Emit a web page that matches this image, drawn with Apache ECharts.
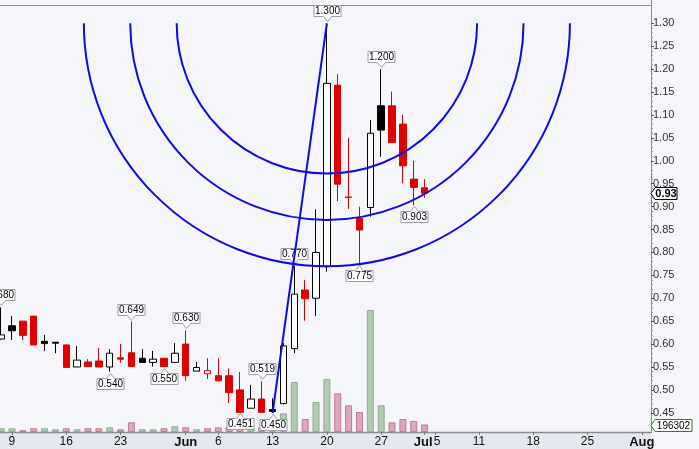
<!DOCTYPE html>
<html><head><meta charset="utf-8">
<script src="https://cdn.jsdelivr.net/npm/echarts@6/dist/echarts.min.js"></script>
<style>html,body{margin:0;padding:0;background:#f5f6fa;}#c{width:699px;height:449px;}</style>
</head><body><div id="c"></div>
<script>
// Trading days (category axis), May 6 2011 .. Aug 1 2011
const dates = [
 '2011-05-06','2011-05-09','2011-05-10','2011-05-11','2011-05-12','2011-05-13',
 '2011-05-16','2011-05-17','2011-05-18','2011-05-19','2011-05-20',
 '2011-05-23','2011-05-24','2011-05-25','2011-05-26','2011-05-27',
 '2011-05-31','2011-06-01','2011-06-02','2011-06-03',
 '2011-06-06','2011-06-07','2011-06-08','2011-06-09','2011-06-10',
 '2011-06-13','2011-06-14','2011-06-15','2011-06-16','2011-06-17',
 '2011-06-20','2011-06-21','2011-06-22','2011-06-23','2011-06-24',
 '2011-06-27','2011-06-28','2011-06-29','2011-06-30','2011-07-01',
 '2011-07-05','2011-07-06','2011-07-07','2011-07-08',
 '2011-07-11','2011-07-12','2011-07-13','2011-07-14','2011-07-15',
 '2011-07-18','2011-07-19','2011-07-20','2011-07-21','2011-07-22',
 '2011-07-25','2011-07-26','2011-07-27','2011-07-28','2011-07-29',
 '2011-08-01'
];
const opens  = [0.611,0.640,0.650,0.661,0.606,0.604,0.598,0.550,0.561,0.563,0.550,0.570,0.581,0.569,0.560,0.569,0.560,0.600,0.541,0.535,0.531,0.531,0.500,0.460,0.480,0.457,0.470,0.590,0.718,0.700,0.769,1.165,0.921,0.875,0.898,1.120,1.120,1.080,0.960,0.941];
const closes = [0.620,0.629,0.619,0.598,0.601,0.602,0.549,0.565,0.551,0.550,0.580,0.567,0.551,0.560,0.567,0.551,0.580,0.531,0.549,0.542,0.520,0.494,0.451,0.480,0.451,0.453,0.596,0.709,0.699,0.800,1.169,0.949,0.920,0.849,1.060,1.067,1.040,0.989,0.942,0.929];
const lows   = [0.610,0.609,0.609,0.598,0.585,0.580,0.549,0.550,0.550,0.550,0.540,0.559,0.551,0.560,0.551,0.550,0.560,0.520,0.541,0.524,0.518,0.471,0.451,0.460,0.451,0.450,0.468,0.580,0.651,0.661,0.758,0.912,0.895,0.775,0.878,1.009,1.040,0.951,0.903,0.919];
const highs  = [0.680,0.661,0.651,0.661,0.620,0.604,0.600,0.596,0.567,0.591,0.589,0.600,0.649,0.589,0.585,0.569,0.602,0.630,0.561,0.569,0.569,0.547,0.539,0.511,0.519,0.482,0.602,0.770,0.740,0.894,1.300,1.189,1.050,0.900,1.089,1.200,1.151,1.100,1.000,0.960];
const volumes = [97000,97000,45000,97000,97000,71000,97000,71000,97000,97000,123000,71000,254000,71000,71000,97000,149000,123000,71000,97000,123000,139000,131000,105000,131000,105000,489000,1309000,340000,785000,1387000,1013000,699000,523000,3193000,699000,254000,340000,288000,196302];

// Swing high / low annotations (indices into the arrays above)
const swingHighIdx = [0,12,17,24,27,30,35];
const swingLowIdx  = [10,15,22,25,33,38];

// Fibonacci arcs: from swing low to swing high
const fibLowIdx = 25, fibHighIdx = 30;
const fibRatios = [0.382, 0.5, 0.618];

// x-axis tick labels
const xTickDates  = ['2011-05-09','2011-05-16','2011-05-23','2011-06-01','2011-06-06','2011-06-13','2011-06-20','2011-06-27','2011-07-01','2011-07-05','2011-07-11','2011-07-18','2011-07-25','2011-08-01'];
const xTickLabels = ['9','16','23','Jun','6','13','20','27','Jul','5','11','18','25','Aug'];

// ---------- build ----------
const RED = '#e00000', BLACK = '#000000', WHITE = '#ffffff';
const labelMap = {};
xTickDates.forEach((d,i)=>{ labelMap[d] = xTickLabels[i]; });

const candleData = opens.map((o,i)=>{
  const c = closes[i];
  const prev = i>0 ? closes[i-1] : c;
  const dirColor = c >= prev ? BLACK : RED;
  const hollow = c >= o;
  const fill = hollow ? WHITE : dirColor;
  return {value:[o,c,lows[i],highs[i]], itemStyle:{color:fill,color0:fill,borderColor:dirColor,borderColor0:dirColor,borderWidth:1}};
});
const volData = volumes.map((v,i)=>{
  const up = i===0 ? true : closes[i] >= closes[i-1];
  return {value:v, itemStyle: up ? {color:'#b2c9b2',borderColor:'#8eae8e',borderWidth:1} : {color:'#dba9bc',borderColor:'#c77595',borderWidth:1}};
});
const swingData = swingHighIdx.map(i=>[i,highs[i],1]).concat(swingLowIdx.map(i=>[i,lows[i],-1]));
const arcData = fibRatios.map(r=>[fibHighIdx,highs[fibHighIdx],fibLowIdx,lows[fibLowIdx],r]);
const trendData = [[dates[fibLowIdx],lows[fibLowIdx]],[dates[fibHighIdx],highs[fibHighIdx]]];
const last = opens.length-1;

const GL = 1.1, GW = 640.7, AXIS_OFF = 9.2;
const FONT = '"Liberation Sans", Arial, sans-serif';

function renderSwing(params, api){
  const idx = api.value(0), price = api.value(1), dir = api.value(2);
  const p = api.coord([idx, price]);
  const x = Math.round(p[0]) + 0.5;
  const w = 27, h = 11;
  let pts, ty;
  if (dir > 0){
    const tip = Math.round(p[1]) - 1.5, bb = tip - 5, bt = bb - h;
    pts = [[x-w/2,bt],[x+w/2,bt],[x+w/2,bb],[x+4,bb],[x,tip],[x-4,bb],[x-w/2,bb]];
    ty = (bt+bb)/2 + 0.5;
  } else {
    const tip = Math.round(p[1]) + 1.5, bt = tip + 5, bb = bt + h;
    pts = [[x-w/2,bt],[x-4,bt],[x,tip],[x+4,bt],[x+w/2,bt],[x+w/2,bb],[x-w/2,bb]];
    ty = (bt+bb)/2 + 0.5;
  }
  return {type:'group', children:[
    {type:'polygon', shape:{points:pts}, style:{fill:'#ffffff', stroke:'#9c9ca8', lineWidth:1}},
    {type:'text', style:{text:price.toFixed(3), x:x, y:ty, align:'center', verticalAlign:'middle', font:'10px '+FONT, fill:'#000'}}
  ]};
}
function renderArc(params, api){
  const c = api.coord([api.value(0), api.value(1)]);
  const l = api.coord([api.value(2), api.value(3)]);
  const r = Math.hypot(c[0]-l[0], c[1]-l[1]) * api.value(4);
  return {type:'arc', shape:{cx:c[0], cy:c[1], r:r, startAngle:0, endAngle:Math.PI, clockwise:true},
          style:{stroke:'#0c0ce6', fill:'none', lineWidth:2}};
}
function makeTag(textFn, border, bold, w){
  return function(params, api){
    const p = api.coord([api.value(0), api.value(1)]);
    const tx = params.coordSys.x + params.coordSys.width + AXIS_OFF;
    const y = Math.round(p[1]) + 0.5;
    const pts = [[tx,y],[tx+4,y-6],[tx+w,y-6],[tx+w,y+6],[tx+4,y+6]];
    return {type:'group', children:[
      {type:'polygon', shape:{points:pts}, style:{fill:'#ffffff', stroke:border, lineWidth:1}},
      {type:'text', style:{text:textFn(api.value(1)), x:tx+4+(w-4)/2, y:y+0.5, align:'center', verticalAlign:'middle', font:(bold?'bold 11px ':'10px ')+FONT, fill:'#000'}}
    ]};
  };
}

const chart = echarts.init(document.getElementById('c'), null, {renderer:'canvas'});
chart.setOption({
  animation:false,
  backgroundColor:'#f5f6fa',
  grid:[
    {left:GL, width:GW, top:23.3, height:389.5, outerBoundsMode:'none'},
    {left:GL, width:GW, top:279.2, height:152.8, outerBoundsMode:'none'}
  ],
  xAxis:[
    {type:'category', gridIndex:0, data:dates, boundaryGap:false, show:false},
    {type:'category', gridIndex:1, data:dates, boundaryGap:false,
     axisLine:{show:false},
     axisTick:{show:true, length:3, interval:(i,v)=>labelMap[v]!==undefined, lineStyle:{color:'#777'}},
     axisLabel:{interval:(i,v)=>labelMap[v]!==undefined, margin:4, color:'#111', fontSize:12, fontFamily:FONT, hideOverlap:false,
       formatter:(v,i)=>{
         const t = labelMap[v]; if (t===undefined) return '';
         if (/^\d+$/.test(t)) {
           const prevLabel = i>0 ? labelMap[dates[i-1]] : undefined;
           return (prevLabel!==undefined && !/^\d+$/.test(prevLabel)) ? '{r|'+t+'}' : t;
         }
         const nextLabel = labelMap[dates[i+1]];
         return nextLabel!==undefined ? '{bl|'+t+'}' : '{b|'+t+'}';
       },
       rich:{
         b:{fontWeight:'bold', fontSize:13, color:'#111', fontFamily:FONT},
         bl:{fontWeight:'bold', fontSize:13, color:'#111', fontFamily:FONT, padding:[0,3,0,0]},
         r:{fontSize:12, color:'#111', fontFamily:FONT, padding:[0,0,0,3]}
       }},
     splitLine:{show:false}}
  ],
  yAxis:[
    {type:'value', gridIndex:0, position:'right', offset:AXIS_OFF, min:0.45, max:1.30, interval:0.05,
     axisLine:{show:false},
     axisTick:{show:true, length:3, lineStyle:{color:'#555'}},
     minorTick:{show:true, splitNumber:5, length:2, lineStyle:{color:'#999'}},
     axisLabel:{margin:2, color:'#333', fontSize:11, fontFamily:FONT, formatter:(v)=>v.toFixed(2)},
     splitLine:{show:false}},
    {type:'value', gridIndex:1, min:0, max:4000000, show:false}
  ],
  graphic:[
    {type:'rect', shape:{x:0,y:433,width:651,height:16}, style:{fill:'#e5e8f0'}, z:-1},
    {type:'line', shape:{x1:0,y1:5.5,x2:651,y2:5.5}, style:{stroke:'#8c8c8c',lineWidth:1}},
    {type:'line', shape:{x1:651.5,y1:0,x2:651.5,y2:433}, style:{stroke:'#8c8c8c',lineWidth:1}},
    {type:'line', shape:{x1:0,y1:432.5,x2:651,y2:432.5}, style:{stroke:'#8c8c8c',lineWidth:1.5}}
  ],
  series:[
    {type:'bar', xAxisIndex:1, yAxisIndex:1, data:volData, barWidth:7, z:1},
    {type:'candlestick', xAxisIndex:0, yAxisIndex:0, data:candleData, barWidth:7, clip:false, z:2},
    {type:'custom', xAxisIndex:0, yAxisIndex:0, data:swingData, renderItem:renderSwing, clip:false, z:3},
    {type:'custom', xAxisIndex:0, yAxisIndex:0, data:arcData, renderItem:renderArc, clip:false, z:4},
    {type:'line', xAxisIndex:0, yAxisIndex:0, data:trendData, symbol:'none', lineStyle:{color:'#0c0ce6', width:2}, z:5},
    {type:'custom', xAxisIndex:0, yAxisIndex:0, data:[[last, closes[last]]], renderItem:makeTag(v=>v.toFixed(2),'#000',true,26), clip:false, z:6},
    {type:'custom', xAxisIndex:1, yAxisIndex:1, data:[[last, volumes[last]]], renderItem:makeTag(v=>String(v),'#2f7a2f',false,41), clip:false, z:6}
  ]
});
</script></body></html>
